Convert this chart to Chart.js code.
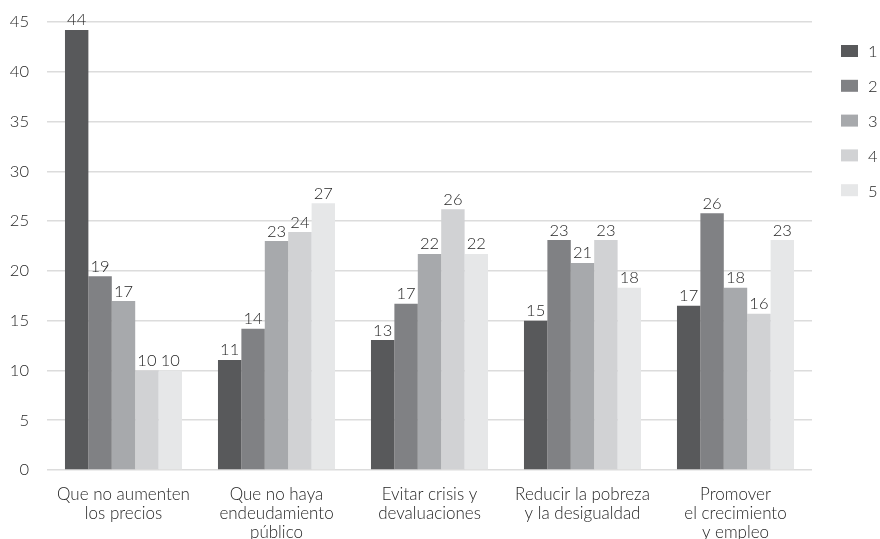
<!DOCTYPE html>
<html><head><meta charset="utf-8">
<script src="https://cdn.jsdelivr.net/npm/chart.js@4/dist/chart.umd.min.js"></script>
<style>html,body{margin:0;padding:0;background:#fff}#wrap{width:880px;height:539px}</style>
</head><body><div id="wrap"><canvas id="c"></canvas></div>
<script>
const categories = [["Que no aumenten","los precios"],["Que no haya","endeudamiento","público"],["Evitar crisis y","devaluaciones"],["Reducir la pobreza","y la desigualdad"],["Promover","el crecimiento","y empleo"]];
const seriesNames = ["1","2","3","4","5"];
const s1 = [44.2, 11.05, 13.05, 15.0, 16.5];
const s2 = [19.45, 14.2, 16.7, 23.1, 25.8];
const s3 = [16.97, 23.0, 21.7, 20.8, 18.3];
const s4 = [10.0, 23.9, 26.2, 23.1, 15.7];
const s5 = [10.0, 26.8, 21.7, 18.3, 23.1];
const colors = ["#58595b","#808184","#a7a9ac","#d1d2d4","#e6e7e8"];
const FONT = "Lato";
const WEIGHT = 300;
const TXT = "#262626";

const labelPlugin = {
  id:'vals',
  afterDatasetsDraw(chart){
    const ctx = chart.ctx;
    ctx.save();
    ctx.font = WEIGHT + " 16.5px " + FONT;
    ctx.fillStyle = TXT;
    ctx.textAlign = 'center';
    ctx.textBaseline = 'alphabetic';
    chart.data.datasets.forEach((ds,i)=>{
      chart.getDatasetMeta(i).data.forEach((bar,j)=>{
        ctx.fillText(String(Math.round(ds.data[j])), bar.x, bar.y - 4.5);
      });
    });
    // legend
    ctx.textBaseline = 'middle';
    ctx.textAlign = 'left';
    chart.data.datasets.forEach((ds,i)=>{
      const cy = 51 + i*34.8;
      ctx.fillStyle = ds.backgroundColor;
      ctx.fillRect(841, cy-6, 17, 12);
      ctx.fillStyle = TXT;
      ctx.fillText(ds.label, 868, cy+1);
    });
    ctx.restore();
  }
};

new Chart(document.getElementById('c'), {
  type:'bar',
  data:{
    labels: categories,
    datasets: [s1,s2,s3,s4,s5].map((d,i)=>({label:seriesNames[i], data:d, backgroundColor:colors[i], borderWidth:0}))
  },
  options:{
    responsive:true, maintainAspectRatio:false, animation:false,
    layout:{padding:{left:0,top:22,right:68,bottom:0}},
    datasets:{bar:{barPercentage:1, categoryPercentage:0.765}},
    plugins:{
      tooltip:{enabled:false},
      legend:{display:false}
    },
    scales:{
      x:{grid:{display:false}, border:{display:false},
         afterFit:(s)=>{s.height = 69; s.paddingLeft = 0; s.paddingRight = 0;},
         ticks:{color:TXT, font:{family:FONT,size:17,weight:WEIGHT,lineHeight:1.12}, padding:7, maxRotation:0, autoSkip:false}},
      y:{min:0,max:45, grid:{color:"#dcdcdc", lineWidth:1.5, drawTicks:false}, border:{display:false},
         afterFit:(s)=>{s.width = 47; s.paddingTop = 0; s.paddingBottom = 0;},
         ticks:{stepSize:5, color:TXT, font:{family:FONT,size:16.5,weight:WEIGHT}, padding:18}}
    }
  },
  plugins:[labelPlugin]
});
</script></body></html>
